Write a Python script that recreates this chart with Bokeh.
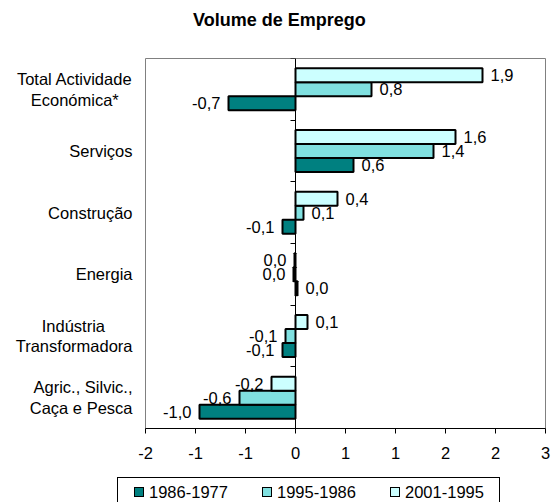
from bokeh.plotting import figure
from bokeh.models import ColumnDataSource, FixedTicker, LinearAxis, Range1d, Div
from bokeh.layouts import column
from bokeh.transform import dodge
from bokeh.embed import file_html
from bokeh.resources import INLINE
from bokeh.core.properties import value

# ---------------- data ----------------
title = "Volume de Emprego"
NB = "\u00a0"
categories = ["Total Actividade\nEconómica*" + NB * 3, "Serviços", "Construção", "Energia",
              "Indústria" + NB * 6 + "\nTransformadora", "Agric., Silvic.,\nCaça e Pesca"]
series = ["1986-1977", "1995-1986", "2001-1995"]
v_1986_1977 = [-0.67, 0.58, -0.13, 0.02, -0.13, -0.96]
v_1995_1986 = [0.76, 1.38, 0.08, -0.02, -0.10, -0.56]
v_2001_1995 = [1.87, 1.60, 0.42, -0.01, 0.12, -0.24]
l_1986_1977 = ["-0,7", "0,6", "-0,1", "0,0", "-0,1", "-1,0"]
l_1995_1986 = ["0,8", "1,4", "0,1", "0,0", "-0,1", "-0,6"]
l_2001_1995 = ["1,9", "1,6", "0,4", "0,0", "0,1", "-0,2"]
x_ticks = [-1.5, -1.0, -0.5, 0, 0.5, 1.0, 1.5, 2.0, 2.5]
x_tick_labels = ["-2", "-1", "-1", "0", "1", "1", "2", "2", "3"]
colors = ["#008080", "#80E0E0", "#CCFFFF"]

FONT = "Liberation Sans"
FS = "16.5px"
values = [v_1986_1977, v_1995_1986, v_2001_1995]
labels = [l_1986_1977, l_1995_1986, l_2001_1995]
n = len(categories)
centers = [n - i - 0.5 for i in range(n)]
bar_h = 0.227
offsets = [-bar_h, 0.0, bar_h]


def key(t):
    return int(t) if float(t).is_integer() else t


W = 551
TITLE_H = 40
LEG_H = 25
MAIN_H = 502 - TITLE_H - LEG_H

head = Div(text=title, width=W, height=TITLE_H, margin=0,
           styles={"font-family": FONT, "font-size": "18px", "font-weight": "bold",
                   "color": "black", "padding-left": "193px", "line-height": "40px",
                   "white-space": "nowrap"})

p = figure(width=W, height=MAIN_H, x_range=Range1d(x_ticks[0], x_ticks[-1]),
           y_range=Range1d(0, n), output_backend="svg", toolbar_location=None,
           title_location=None, margin=0,
           min_border_left=145, min_border_right=6, min_border_top=58 - TITLE_H,
           min_border_bottom=MAIN_H - (58 - TITLE_H) - 370)
p.xgrid.visible = False
p.ygrid.visible = False
p.outline_line_color = "#808080"
p.outline_line_width = 1

xa = p.xaxis[0]
xa.ticker = FixedTicker(ticks=x_ticks)
xa.major_label_overrides = {key(t): s for t, s in zip(x_ticks, x_tick_labels)}
xa.major_tick_out = 5
xa.major_tick_in = 0
xa.minor_tick_out = 0
xa.minor_tick_in = 0
xa.axis_line_color = "black"
xa.major_tick_line_color = "black"
xa.major_label_standoff = 13
xa.major_label_text_font = FONT
xa.major_label_text_font_size = FS
xa.major_label_text_color = "black"

ya = p.yaxis[0]
ya.ticker = FixedTicker(ticks=centers)
ya.major_label_overrides = {key(c): s for c, s in zip(centers, categories)}
ya.major_tick_out = 0
ya.major_tick_in = 0
ya.minor_tick_out = 0
ya.minor_tick_in = 0
ya.axis_line_color = None
ya.major_label_standoff = 13
ya.major_label_text_font = FONT
ya.major_label_text_font_size = FS
ya.major_label_text_color = "black"
ya.major_label_text_line_height = 1.15

bounds = list(range(n + 1))
za = LinearAxis(fixed_location=0, ticker=FixedTicker(ticks=bounds),
                major_label_overrides={b: "" for b in bounds},
                major_tick_out=5, major_tick_in=0, minor_tick_out=0, minor_tick_in=0,
                axis_line_color="black", major_tick_line_color="black")
p.add_layout(za, "left")

for i in range(3):
    src = ColumnDataSource(dict(y=centers, val=values[i], lbl=labels[i]))
    p.hbar(y=dodge("y", offsets[i]), left=0, right="val", height=bar_h, source=src,
           fill_color=colors[i], line_color="black", line_width=2)
    pos = [j for j in range(n) if values[i][j] >= 0]
    neg = [j for j in range(n) if values[i][j] < 0]
    for idx, align, off in ((pos, "left", 8), (neg, "right", -8)):
        s2 = ColumnDataSource(dict(y=[centers[j] for j in idx],
                                   val=[values[i][j] for j in idx],
                                   lbl=[labels[i][j] for j in idx]))
        p.text(x="val", y=dodge("y", offsets[i]), text="lbl", source=s2, x_offset=off,
               text_align=align, text_baseline="middle", text_font=value(FONT),
               text_font_size=FS, text_color="black")

# ---------------- legend strip (HTML) ----------------
box_left, box_right = 117, 500
sw_x0, step, sw = 134, 128, 10
parts = [f'<div style="position:absolute;left:{box_left}px;top:0;width:{box_right - box_left}px;'
         f'height:40px;border:1px solid black;box-sizing:border-box;"></div>']
for i, (name, col) in enumerate(zip(series, colors)):
    x0 = sw_x0 + step * i
    parts.append(f'<div style="position:absolute;left:{x0}px;top:10px;width:{sw}px;height:{sw}px;'
                 f'background:{col};border:1.5px solid black;box-sizing:border-box;"></div>')
    parts.append(f'<div style="position:absolute;left:{x0 + sw + 5}px;top:5px;height:20px;'
                 f'line-height:20px;font-family:\'{FONT}\';font-size:{FS};color:black;'
                 f'white-space:nowrap;">{name}</div>')
leg = Div(text="".join(parts), width=W, height=LEG_H, margin=0,
          styles={"position": "relative", "overflow": "hidden"})

layout = column(head, p, leg, spacing=0, margin=0)
open("out.html", "w").write(file_html(layout, INLINE))
